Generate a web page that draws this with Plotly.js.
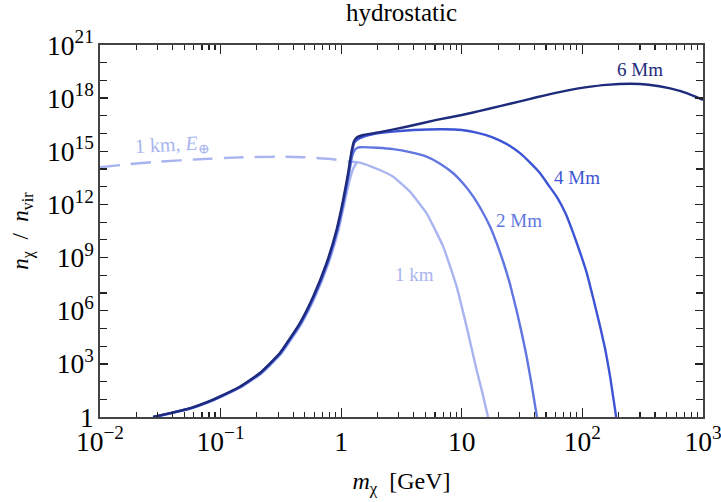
<!DOCTYPE html>
<html>
<head>
<meta charset="utf-8">
<script src="https://cdn.plot.ly/plotly-3.0.1.min.js"></script>
<style>html,body{margin:0;padding:0;background:#fff;}#chart{width:721px;height:502px;}</style>
</head>
<body>
<div id="chart"></div>
<script>
// m_chi [GeV] and n_chi / n_vir
const x1km = [0.0288, 0.0414, 0.0585, 0.0792, 0.102, 0.150, 0.219, 0.321, 0.471, 0.608, 0.785, 0.951, 1.078, 1.19, 1.274, 1.365, 1.426, 1.995, 2.698, 3.715, 5.105, 7.01, 9.06, 10.96, 13.27, 14.9, 16.5];
const y1km = [1, 1.78, 3.16, 6.6, 14.1, 51.3, 295, 3.98e3, 1.95e5, 6.17e6, 4.79e8, 3.63e10, 1.78e12, 3.2e13, 1.26e14, 2.4e14, 2.29e14, 1.0e14, 3.7e13, 5.25e12, 3.16e11, 4.17e9, 2.29e7, 1.26e5, 447, 20, 1];

const x2Mm = [0.0282, 0.0406, 0.0573, 0.0777, 0.100, 0.147, 0.215, 0.315, 0.462, 0.597, 0.770, 0.932, 1.058, 1.163, 1.23, 1.303, 1.365, 1.426, 1.995, 2.698, 3.715, 5.105, 6.607, 8.49, 10.35, 12.45, 14.79, 17.14, 19.5, 22.08, 25.1, 28.5, 31.6, 34.5, 38.0, 42.0];
const y2Mm = [1, 1.78, 3.16, 6.6, 14.1, 51.3, 295, 3.98e3, 1.95e5, 6.17e6, 4.79e8, 3.63e10, 1.78e12, 5.75e13, 5.0e14, 1.26e15, 1.58e15, 1.7e15, 1.58e15, 1.32e15, 8.9e14, 5.0e14, 2.0e14, 5.75e13, 1.41e13, 2.75e12, 3.98e11, 5.62e10, 6.3e9, 5.62e8, 3.16e7, 1.0e6, 4.47e4, 2.51e3, 63, 1];

const x4Mm = [0.0278, 0.0402, 0.0568, 0.0770, 0.0992, 0.1455, 0.213, 0.312, 0.458, 0.591, 0.763, 0.923, 1.047, 1.151, 1.231, 1.287, 1.426, 1.778, 2.698, 3.98, 7.01, 10.0, 13.27, 17.78, 20.75, 25.1, 30.4, 36.3, 44.6, 52.2, 61.2, 72.4, 84.1, 95.5, 108.9, 123.0, 140.3, 154.9, 169.8, 190.5];
const y4Mm = [1, 1.78, 3.16, 6.6, 14.1, 51.3, 295, 3.98e3, 1.95e5, 6.17e6, 4.79e8, 3.63e10, 1.78e12, 5.75e13, 1.0e15, 3.2e15, 5.5e15, 8.9e15, 1.29e16, 1.58e16, 1.74e16, 1.58e16, 1.12e16, 6.3e15, 3.98e15, 2.0e15, 7.8e14, 2.51e14, 5.75e13, 1.26e13, 2.75e12, 3.16e11, 2.34e10, 2.0e9, 1.29e8, 5.0e6, 1.26e5, 6.3e3, 191, 1];

const x6Mm = [0.0275, 0.0398, 0.0562, 0.0762, 0.0982, 0.144, 0.211, 0.309, 0.453, 0.585, 0.755, 0.914, 1.037, 1.140, 1.219, 1.274, 1.334, 1.521, 2.089, 3.548, 6.18, 10.0, 14.16, 20.75, 30.4, 41.7, 57.4, 79.4, 108.9, 158.5, 248.9, 354.8, 534.6, 741.3, 1000];
const y6Mm = [1, 1.78, 3.16, 6.6, 14.1, 51.3, 295, 3.98e3, 1.95e5, 6.17e6, 4.79e8, 3.63e10, 1.78e12, 5.75e13, 1.0e15, 3.55e15, 5.75e15, 8.32e15, 1.2e16, 2.51e16, 5.89e16, 1.12e17, 1.91e17, 3.55e17, 6.61e17, 1.12e18, 1.86e18, 2.95e18, 4.17e18, 5.62e18, 6.46e18, 5.75e18, 3.55e18, 1.86e18, 7.94e17];

const xE = [0.01, 0.0178, 0.0316, 0.067, 0.126, 0.2, 0.33, 0.5, 0.857, 1.14, 1.365];
const yE = [1.26e14, 1.9e14, 2.63e14, 3.55e14, 4.37e14, 4.79e14, 4.9e14, 4.57e14, 3.55e14, 2.63e14, 2.4e14];

const labels = ["1 km", "2 Mm", "4 Mm", "6 Mm", "1 km, <i>E</i><sub>⊕</sub>"];
const colors = ["#a9b5f0", "#6176e0", "#3d54d4", "#1e2b7c", "#a9b5f0"];

const serif = "Liberation Serif, DejaVu Serif, serif";
const tickColor = "#222";
const frameColor = "#444";

const line = (x, y, c, dash) => ({
  x: x, y: y, type: "scatter", mode: "lines",
  line: {color: c, width: 2.4, shape: "spline", smoothing: 0.4, dash: dash || "solid"},
  hoverinfo: "skip", showlegend: false
});

const data = [
  line(xE, yE, colors[4], "20px,11px"),
  line(x1km, y1km, colors[0]),
  line(x2Mm, y2Mm, colors[1]),
  line(x4Mm, y4Mm, colors[2]),
  line(x6Mm, y6Mm, colors[3])
];

const ann = (text, x, y, c, size, angle) => ({
  text: text, xref: "paper", yref: "paper", x: x, y: y,
  xanchor: "center", yanchor: "middle", showarrow: false,
  font: {family: serif, size: size, color: c}, textangle: angle || 0
});

const axisCommon = {
  type: "log", showgrid: false, zeroline: false,
  showline: true, linecolor: frameColor, linewidth: 1.8, mirror: "ticks",
  ticks: "inside", tickcolor: tickColor, tickwidth: 1.4,
  exponentformat: "power", ticklabeloverflow: "allow",
  tickfont: {family: serif, size: 22, color: "#000"}
};

const layout = {
  width: 721, height: 502,
  margin: {l: 100, r: 18, t: 45, b: 85},
  paper_bgcolor: "#fff", plot_bgcolor: "#fff",
  title: {text: "hydrostatic", x: 0.5, xref: "paper", y: 0.975, yref: "container", yanchor: "middle",
          font: {family: serif, size: 25, color: "#000"}},
  xaxis: Object.assign({}, axisCommon, {
    range: [-2, 3], dtick: 1, tick0: 0, ticklen: 9,
    minor: {ticks: "inside", ticklen: 5, tickcolor: tickColor, tickwidth: 1.2},
    title: {text: "<i>m</i><sub>χ</sub>  [GeV]", standoff: 16, font: {family: serif, size: 24, color: "#000"}}
  }),
  yaxis: Object.assign({}, axisCommon, {
    range: [0, 21], dtick: 3, tick0: 0, ticklen: 8,
    minor: {dtick: 1, ticks: "inside", ticklen: 7, tickcolor: tickColor, tickwidth: 1.2},
    title: {text: "<i>n</i><sub>χ</sub>  /  <i>n</i><sub>vir</sub>", standoff: 12, font: {family: serif, size: 23, color: "#000"}}
  }),
  annotations: [
    ann(labels[0], 0.521, 0.382, colors[0], 19),
    ann(labels[1], 0.695, 0.527, colors[1], 19),
    ann(labels[2], 0.791, 0.645, colors[2], 19),
    ann(labels[3], 0.896, 0.933, colors[3], 19),
    ann(labels[4], 0.121, 0.731, colors[4], 20, -3)
  ]
};

Plotly.newPlot("chart", data, layout, {displayModeBar: false, staticPlot: true});
</script>
</body>
</html>
